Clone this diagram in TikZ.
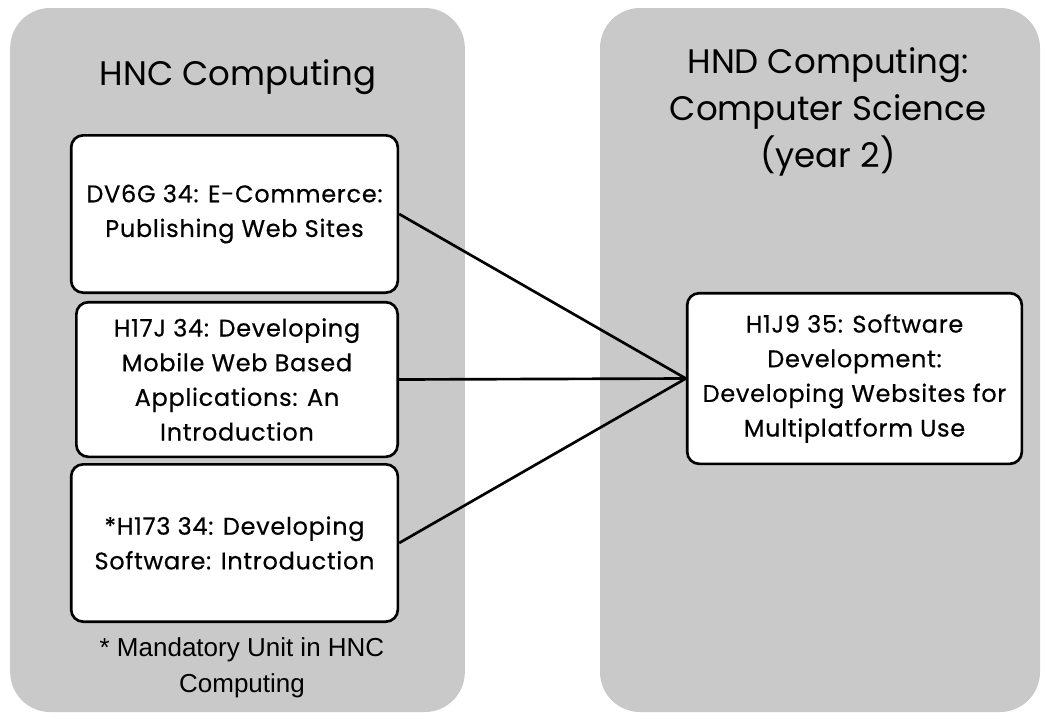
\documentclass[tikz,border=0pt]{standalone}
\usepackage{fontspec}
\setmainfont{Poppins}
\newfontfamily\unitfont[LetterSpace=3, FakeBold=0.5]{Poppins}
\newfontfamily\notefont{Liberation Sans}
\usetikzlibrary{positioning}
\definecolor{PanelGray}{RGB}{201,201,201}

\begin{document}
\begin{tikzpicture}[
  x=0.75pt, y=-0.75pt,
  panel/.style={
    fill=PanelGray,
    rounded corners=30pt,
    inner sep=0pt,
  },
  unit/.style={
    draw=black,
    line width=2pt,
    fill=white,
    rounded corners=9pt,
    align=center,
    inner sep=0pt,
    font=\unitfont\fontsize{18}{26}\selectfont,
  },
  head/.style={align=center, font=\fontsize{25.5}{35}\selectfont},
  note/.style={align=center, font=\notefont\fontsize{19.5}{27}\selectfont},
  link/.style={line width=2pt, black},
]
  \useasboundingbox (0,0) rectangle (1046,718);

  % -------- panels --------
  \node[panel, minimum width=341pt, minimum height=528pt] (HNC) at (237.5,360) {};
  \node[panel, minimum width=330pt, minimum height=528pt] (HND) at (820,360) {};

  % -------- headings --------
  \node[head] (HNCtitle) at (238,77) {HNC Computing};
  \node[head] (HNDtitle) at (828,112) {HND Computing:\\Computer Science\\(year 2)};

  % -------- HNC units --------
  \node[unit, minimum width=245pt, minimum height=118pt] (DV6G) at (234.5,214) {%
    DV6G 34: E-Commerce:\\Publishing Web Sites};
  \node[unit, minimum width=241pt, minimum height=116pt] (H17J) at (237,379.5) {%
    H17J 34: Developing\\Mobile Web Based\\Applications: An\\Introduction};
  \node[unit, minimum width=245pt, minimum height=118pt] (H173) at (234.5,543) {%
    *H173 34: Developing\\Software: Introduction};
  \node[note] (mand) at (242,668) {* Mandatory Unit in HNC\\Computing};

  % -------- HND unit --------
  \node[unit, minimum width=251pt, minimum height=128pt] (H1J9) at (854.5,378.5) {%
    H1J9 35: Software\\Development:\\Developing Websites for\\Multiplatform Use};

  % -------- links --------
  \draw[link] (DV6G.east) -- (H1J9.west);
  \draw[link] (H17J.east) -- (H1J9.west);
  \draw[link] (H173.east) -- (H1J9.west);
\end{tikzpicture}
\end{document}
